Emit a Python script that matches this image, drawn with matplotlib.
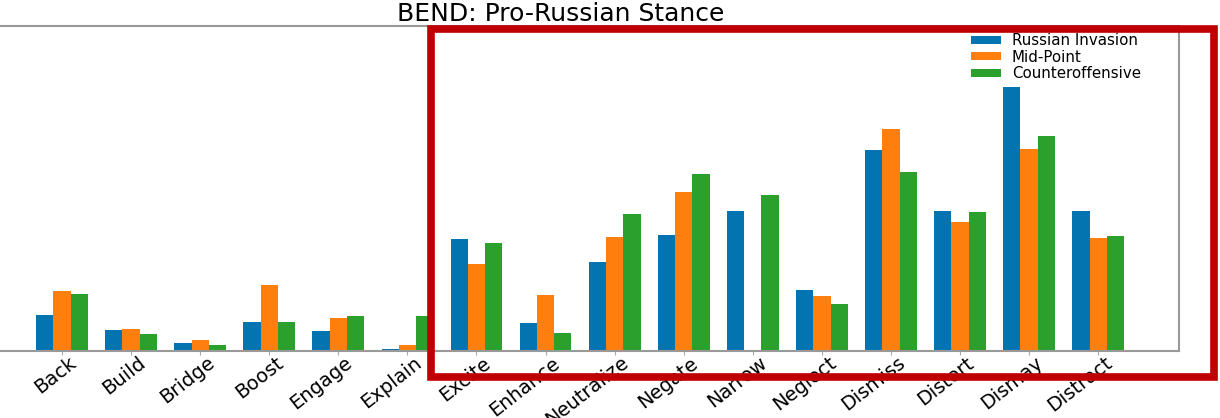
import numpy as np
import matplotlib
matplotlib.use("Agg")
import matplotlib.pyplot as plt
import matplotlib.transforms as mtransforms
from matplotlib.patches import Rectangle

# BEND maneuvers (arbitrary units, y axis not shown)
categories = ["Back", "Build", "Bridge", "Boost", "Engage", "Explain",
              "Excite", "Enhance", "Neutralize", "Negate", "Narrow", "Neglect",
              "Dismiss", "Distort", "Dismay", "Distract"]
invasion = [36, 21, 8, 28.5, 20, 2, 112, 27.7, 88.3, 115.3, 140, 60.7,
            201, 139.3, 264.3, 139.3]
midpoint = [60, 22, 11, 66, 33, 6, 87, 55.3, 113.3, 159, 0, 55,
            222.3, 128.3, 202, 112.7]
counter = [57, 17, 6, 28.5, 34.5, 34.5, 107.7, 17.3, 136.7, 177.3, 156.3, 46.3,
           179, 138.3, 215, 114.3]
series_names = ["Russian Invasion", "Mid-Point", "Counteroffensive"]
colors = ["#0474b0", "#ff7f0e", "#2ca02c"]

fig = plt.figure(figsize=(12.2, 4.18), dpi=100)
ax = fig.add_axes([-0.015, 0.161, 0.981, 0.777])

x = np.arange(len(categories))
w = 0.25
for i, (vals, name, c) in enumerate(zip([invasion, midpoint, counter], series_names, colors)):
    ax.bar(x + (i - 1) * w, vals, w, color=c, label=name)

ax.set_ylim(0, 325)
ax.set_yticks([])
ax.set_xticks(x)
ax.set_xticklabels(categories, rotation=38, ha="right", rotation_mode="anchor",
                   fontsize=14)
ax.tick_params(axis="x", length=3, color="#aaaaaa", pad=1)
# nudge labels a little right/up so they sit like the original
shift = mtransforms.ScaledTranslation(6 / 100, 3 / 100, fig.dpi_scale_trans)
for lbl in ax.get_xticklabels():
    lbl.set_transform(lbl.get_transform() + shift)
for s in ax.spines.values():
    s.set_color("#999999")
    s.set_linewidth(1.5)

ax.set_title("BEND: Pro-Russian Stance", fontsize=18, x=0.484, pad=3)

leg = ax.legend(loc="upper right", bbox_to_anchor=(0.978, 1.012), frameon=False,
                fontsize=10.8, handleheight=0.45, handlelength=2.0,
                labelspacing=0.1, borderpad=0.25, handletextpad=0.7)

# red highlight box drawn on top of the figure
fig.patches.append(Rectangle((431 / 1220, 1 - 377 / 418), 783 / 1220, 348 / 418,
                             transform=fig.transFigure, fill=False,
                             edgecolor="#c00000", linewidth=5.5, zorder=10))

fig.savefig("out.png", dpi=100)
